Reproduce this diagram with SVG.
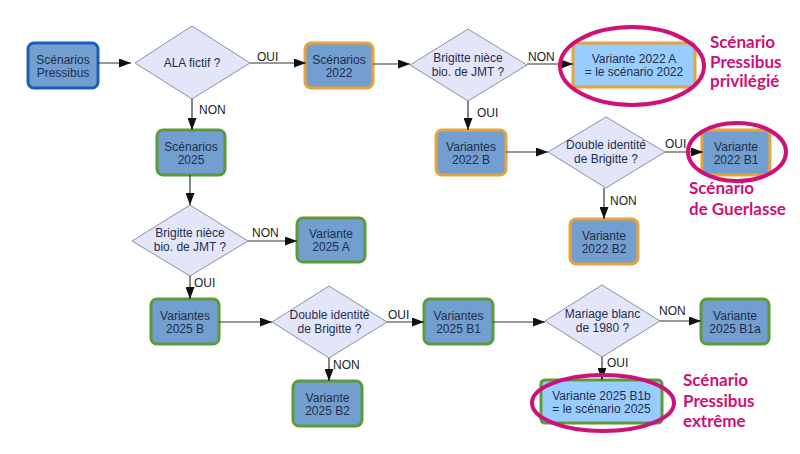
<svg xmlns="http://www.w3.org/2000/svg" width="800" height="454" viewBox="0 0 800 454">
<defs>
<marker id="ah" markerWidth="12" markerHeight="9" refX="12" refY="4.5" orient="auto" markerUnits="userSpaceOnUse">
<path d="M0,0 L12,4.5 L0,9 z" fill="#111"/>
</marker>
<style>
.n rect{fill:#729fcf;stroke-width:3}
.n text,.d text{font-family:"Liberation Sans",Arial,sans-serif;font-size:12px;fill:#1f2d4d;text-anchor:middle}
.blue rect{stroke:#1a5fb4}
.or rect{stroke:#e8a33c}
.gr rect{stroke:#5c9a3a}
.lt rect{fill:#99ccff}
.d polygon{fill:#e3e6f8;stroke:#8a90a8;stroke-width:1}
.c line{stroke:#333;stroke-width:1.2;marker-end:url(#ah)}
.c text{font-family:"Liberation Sans",Arial,sans-serif;font-size:12px;fill:#222}
.hl ellipse{fill:none;stroke:#cc1177;stroke-width:4}
.hl text{font-family:Lato,"Open Sans",sans-serif;font-weight:700;font-size:17px;fill:#cc1177}
</style>
</defs>
<rect width="800" height="454" fill="#fff"/>

<g id="pressibus" class="n blue"><rect x="28" y="43" width="70" height="45" rx="6"/><text x="63" y="63.5">Scénarios</text><text x="63" y="76.5">Pressibus</text></g>
<g id="s2022" class="n or"><rect x="305" y="43" width="68" height="45" rx="6"/><text x="339" y="63.5">Scénarios</text><text x="339" y="76.5">2022</text></g>
<g id="s2025" class="n gr"><rect x="157" y="130" width="68" height="45" rx="6"/><text x="191" y="150.5">Scénarios</text><text x="191" y="163.5">2025</text></g>
<g id="v2025a" class="n gr"><rect x="297" y="218" width="68" height="44" rx="6"/><text x="331" y="238">Variante</text><text x="331" y="251">2025 A</text></g>
<g id="v2025b" class="n gr"><rect x="151" y="299" width="68" height="45" rx="6"/><text x="185" y="319.5">Variantes</text><text x="185" y="332.5">2025 B</text></g>
<g id="v2025b1" class="n gr"><rect x="424" y="299" width="69" height="45" rx="6"/><text x="458.5" y="319.5">Variantes</text><text x="458.5" y="332.5">2025 B1</text></g>
<g id="v2025b2" class="n gr"><rect x="293" y="381" width="69" height="45" rx="6"/><text x="327.5" y="401.5">Variante</text><text x="327.5" y="414.5">2025 B2</text></g>
<g id="v2025b1a" class="n gr"><rect x="701" y="299" width="68" height="45" rx="6"/><text x="735" y="319.5">Variante</text><text x="735" y="332.5">2025 B1a</text></g>
<g id="v2025b1b" class="n gr lt"><rect x="541" y="380" width="121" height="43" rx="4"/><text x="601.5" y="399.5">Variante 2025 B1b</text><text x="601.5" y="412.5">= le scénario 2025</text></g>
<g id="v2022a" class="n or lt"><rect x="573" y="43" width="122" height="44" rx="4"/><text x="634" y="62.5">Variante 2022 A</text><text x="634" y="75.5">= le scénario 2022</text></g>
<g id="v2022b" class="n or"><rect x="436" y="130" width="70" height="45" rx="6"/><text x="471" y="150.5">Variantes</text><text x="471" y="163.5">2022 B</text></g>
<g id="v2022b1" class="n or"><rect x="702" y="130" width="68" height="45" rx="6"/><text x="736" y="150.5">Variante</text><text x="736" y="163.5">2022 B1</text></g>
<g id="v2022b2" class="n or"><rect x="570" y="219" width="68" height="45" rx="6"/><text x="604" y="239.5">Variante</text><text x="604" y="252.5">2022 B2</text></g>

<g id="d_ala" class="d"><polygon points="135,63 192,26 250,63 192,99"/><text x="192" y="67">ALA fictif ?</text></g>
<g id="d_brig22" class="d"><polygon points="410,65 468,29 527,65 468,101"/><text x="468" y="62">Brigitte nièce</text><text x="468" y="76">bio. de JMT ?</text></g>
<g id="d_dbl22" class="d"><polygon points="548,152 606,117 665,152 606,188"/><text x="606" y="149">Double identité</text><text x="606" y="163">de Brigitte ?</text></g>
<g id="d_brig25" class="d"><polygon points="132,241 190,205 248,241 190,276"/><text x="190" y="237">Brigitte nièce</text><text x="190" y="251">bio. de JMT ?</text></g>
<g id="d_dbl25" class="d"><polygon points="272,322 329,286 387,322 329,358"/><text x="329.5" y="319">Double identité</text><text x="329.5" y="333">de Brigitte ?</text></g>
<g id="d_mar" class="d"><polygon points="545,321 602,285 660,321 602,357"/><text x="602.5" y="318">Mariage blanc</text><text x="602.5" y="332">de 1980 ?</text></g>

<g id="connectors" class="c">
<line x1="98" y1="63" x2="131" y2="63"/>
<line x1="250" y1="63" x2="306" y2="63"/><text x="257" y="61">OUI</text>
<line x1="192" y1="99" x2="192" y2="130"/><text x="199" y="114">NON</text>
<line x1="190" y1="175" x2="190" y2="205"/>
<line x1="373" y1="64" x2="410" y2="64"/>
<line x1="527" y1="64" x2="573" y2="64"/><text x="528" y="61">NON</text>
<line x1="468" y1="101" x2="468" y2="130"/><text x="477" y="117">OUI</text>
<line x1="506" y1="152" x2="548" y2="152"/>
<line x1="665" y1="152" x2="703" y2="152"/><text x="665" y="148">OUI</text>
<line x1="604" y1="188" x2="604" y2="219"/><text x="610" y="205">NON</text>
<line x1="248" y1="241" x2="297" y2="241"/><text x="252" y="237">NON</text>
<line x1="190" y1="276" x2="190" y2="299"/><text x="194" y="287">OUI</text>
<line x1="219" y1="322" x2="272" y2="322"/>
<line x1="387" y1="322" x2="424" y2="322"/><text x="388" y="319">OUI</text>
<line x1="329" y1="358" x2="329" y2="381"/><text x="333" y="369">NON</text>
<line x1="493" y1="322" x2="545" y2="322"/>
<line x1="660" y1="321" x2="701" y2="321"/><text x="659" y="315">NON</text>
<line x1="602" y1="357" x2="602" y2="380"/><text x="607" y="367">OUI</text>
</g>

<g id="hl_privilegie" class="hl"><ellipse cx="632" cy="66" rx="72" ry="39"/><text x="710" y="48">Scénario</text><text x="710" y="68">Pressibus</text><text x="710" y="87">privilégié</text></g>
<g id="hl_guerlasse" class="hl"><ellipse cx="737" cy="152" rx="49" ry="29"/><text x="689" y="194">Scénario</text><text x="689" y="215">de Guerlasse</text></g>
<g id="hl_extreme" class="hl"><ellipse cx="603" cy="403" rx="71" ry="28"/><text x="683" y="386">Scénario</text><text x="683" y="407">Pressibus</text><text x="683" y="427">extrême</text></g>
</svg>
